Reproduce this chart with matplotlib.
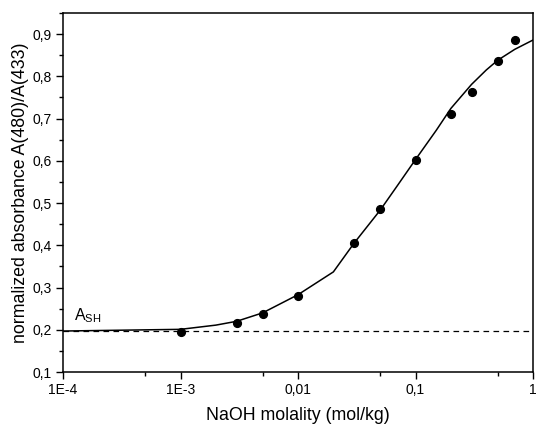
import matplotlib
matplotlib.use("Agg")
import matplotlib.pyplot as plt
from matplotlib.ticker import FixedLocator, FixedFormatter, MultipleLocator, FuncFormatter

plt.rcParams['font.family'] = ['Liberation Sans', 'DejaVu Sans']
plt.rcParams['mathtext.fontset'] = 'custom'
plt.rcParams['mathtext.rm'] = 'Liberation Sans'
plt.rcParams['mathtext.it'] = 'Liberation Sans'

# Measured absorbance ratios
naoh_molality = [0.001, 0.003, 0.005, 0.01, 0.03, 0.05, 0.1, 0.2, 0.3, 0.5, 0.7]
absorbance_ratio = [0.194, 0.217, 0.237, 0.280, 0.405, 0.485, 0.602, 0.712, 0.764, 0.837, 0.887]

# Fitted titration curve
fit_molality = [1e-4, 1e-3, 0.002, 0.003, 0.005, 0.01, 0.02, 0.03, 0.05, 0.07,
                0.1, 0.15, 0.2, 0.3, 0.4, 0.5, 0.7, 1.0]
fit_ratio = [0.197, 0.201, 0.211, 0.220, 0.240, 0.283, 0.337, 0.405, 0.483, 0.541,
             0.603, 0.672, 0.724, 0.781, 0.815, 0.838, 0.864, 0.886]

# Baseline of the acid form
a_sh = 0.197

x_ticks = [1e-4, 1e-3, 1e-2, 1e-1, 1]
x_tick_labels = ["1E-4", "1E-3", "0,01", "0,1", "1"]
x_minor_ticks = [5e-4, 5e-3, 5e-2, 5e-1]

W, H = 537, 425
left, right, top, bottom = 63, 533, 13, 372

fig = plt.figure(figsize=(W / 100, H / 100), dpi=100)
ax = fig.add_axes([left / W, 1 - bottom / H, (right - left) / W, (bottom - top) / H])

ax.plot(fit_molality, fit_ratio, color='black', lw=1.1, zorder=2)
ax.plot(naoh_molality, absorbance_ratio, 'o', color='black', ms=5.6, zorder=3)
ax.plot([1e-4, 0.97], [a_sh, a_sh], color='black', lw=0.9, dashes=(4.5, 3.5), zorder=1)

ax.text(1.25e-4, 0.212, r'A$_{\mathrm{SH}}$', fontsize=11.5, ha='left', va='bottom')

ax.set_xscale('log')
ax.set_xlim(1e-4, 1)
ax.set_ylim(0.1, 0.95)

ax.xaxis.set_major_locator(FixedLocator(x_ticks))
ax.xaxis.set_major_formatter(FixedFormatter(x_tick_labels))
ax.xaxis.set_minor_locator(FixedLocator(x_minor_ticks))
ax.xaxis.set_minor_formatter(FixedFormatter([]))

ax.yaxis.set_major_locator(FixedLocator([0.1, 0.2, 0.3, 0.4, 0.5, 0.6, 0.7, 0.8, 0.9]))
ax.yaxis.set_minor_locator(MultipleLocator(0.05))
ax.yaxis.set_major_formatter(FuncFormatter(lambda v, p: f"{v:.1f}".replace('.', ',')))

ax.tick_params(which='both', direction='out', top=False, right=False,
               labelsize=10, width=1.0, color='black', pad=3)
ax.tick_params(which='major', length=5)
ax.tick_params(which='minor', length=3)

for s in ax.spines.values():
    s.set_linewidth(1.1)

ax_w, ax_h = right - left, bottom - top

ax.set_xlabel("NaOH molality (mol/kg)", fontsize=12.8)
ax.xaxis.label.set_va('baseline')
ax.xaxis.set_label_coords(0.5, (H - 420 - (H - bottom)) / ax_h)

ax.set_ylabel("normalized absorbance A(480)/A(433)", fontsize=12.8)
ax.yaxis.label.set_va('center')
ax.yaxis.set_label_coords((21 - left) / ax_w, 0.5)

fig.savefig("out.png", dpi=100)
